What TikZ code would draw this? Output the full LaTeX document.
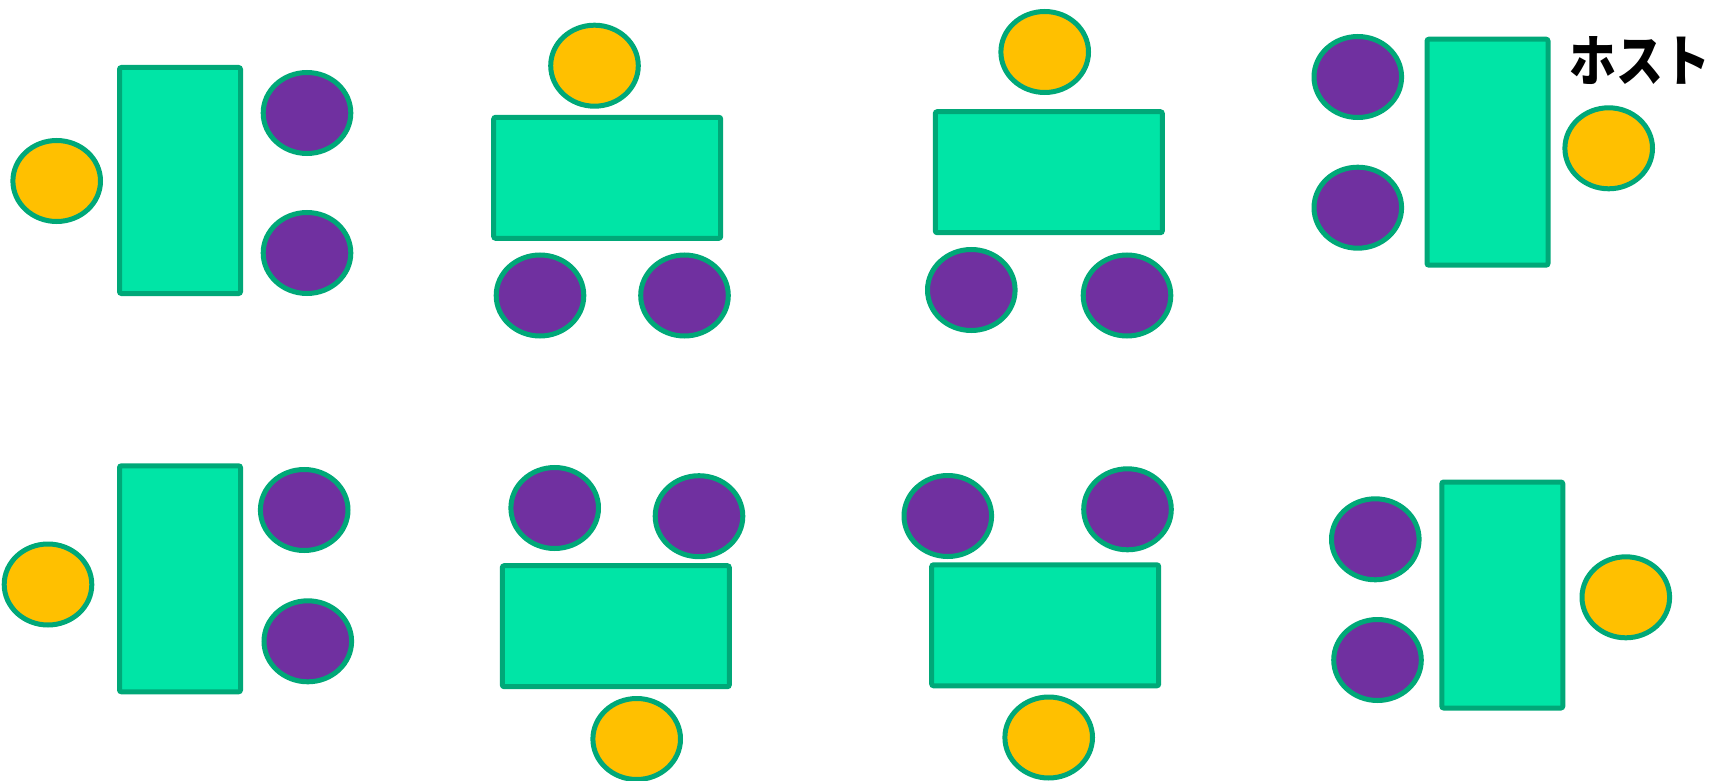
\documentclass[tikz,border=0pt]{standalone}
\usepackage{graphicx}
\usepackage{fontspec}
\newfontfamily\cjk{Noto Sans CJK JP}
\usetikzlibrary{shapes.geometric}
\definecolor{tablefill}{RGB}{0,229,166}
\definecolor{edgegreen}{RGB}{0,168,120}
\definecolor{guestpurple}{RGB}{112,48,160}
\definecolor{hostyellow}{RGB}{255,192,0}
\tikzset{
  seat/.style={ellipse, draw=edgegreen, line width=5pt, minimum width=87.6pt, minimum height=81pt, inner sep=0pt},
  guest/.style={seat, fill=guestpurple},
  host/.style={seat, fill=hostyellow},
  tablebox/.style={rectangle, draw=edgegreen, fill=tablefill, line width=5pt, rounded corners=2pt, inner sep=0pt},
  vtable/.style={tablebox, minimum width=121pt, minimum height=226pt},
  htable/.style={tablebox, minimum width=227pt, minimum height=121pt},
  label/.style={font=\cjk\bfseries\fontsize{47}{47}\selectfont, inner sep=0pt}
}
\begin{document}
\begin{tikzpicture}[x=1pt,y=-1pt]
\useasboundingbox (0,0) rectangle (1709,781);
% group 1
\node[vtable] (t1) at (180,180.5) {};
\node[host] (h1) at (56.7,181) {};
\node[guest] (g1a) at (307,113) {};
\node[guest] (g1b) at (307,253) {};
% group 2
\node[htable] (t2) at (607.2,177.8) {};
\node[host] (h2) at (594.5,65.7) {};
\node[guest] (g2a) at (540,295.5) {};
\node[guest] (g2b) at (684.5,295.5) {};
% group 3
\node[htable] (t3) at (1048.8,172.2) {};
\node[host] (h3) at (1044.7,52) {};
\node[guest] (g3a) at (971.3,290) {};
\node[guest] (g3b) at (1127,295.5) {};
% group 4
\node[vtable] (t4) at (1487.5,152.2) {};
\node[host] (h4) at (1608.7,148.3) {};
\node[guest] (g4a) at (1357.8,77) {};
\node[guest] (g4b) at (1357.8,207.7) {};
\node[label] (hostlabel) at (1640,61) {\scalebox{1}[1.18]{ホスト}};
% group 5
\node[vtable] (t5) at (180,578.8) {};
\node[host] (h5) at (48,584.5) {};
\node[guest] (g5a) at (304.2,510) {};
\node[guest] (g5b) at (307.8,641.3) {};
% group 6
\node[htable] (t6) at (615.8,626.2) {};
\node[host] (h6) at (636.7,739) {};
\node[guest] (g6a) at (554.7,508) {};
\node[guest] (g6b) at (699,516.2) {};
% group 7
\node[htable] (t7) at (1045.2,625.3) {};
\node[host] (h7) at (1048.7,737.5) {};
\node[guest] (g7a) at (947.8,516) {};
\node[guest] (g7b) at (1127.5,509.3) {};
% group 8
\node[vtable] (t8) at (1502.3,595) {};
\node[host] (h8) at (1625.8,597.3) {};
\node[guest] (g8a) at (1375.3,539.3) {};
\node[guest] (g8b) at (1377.5,660) {};
\end{tikzpicture}
\end{document}
